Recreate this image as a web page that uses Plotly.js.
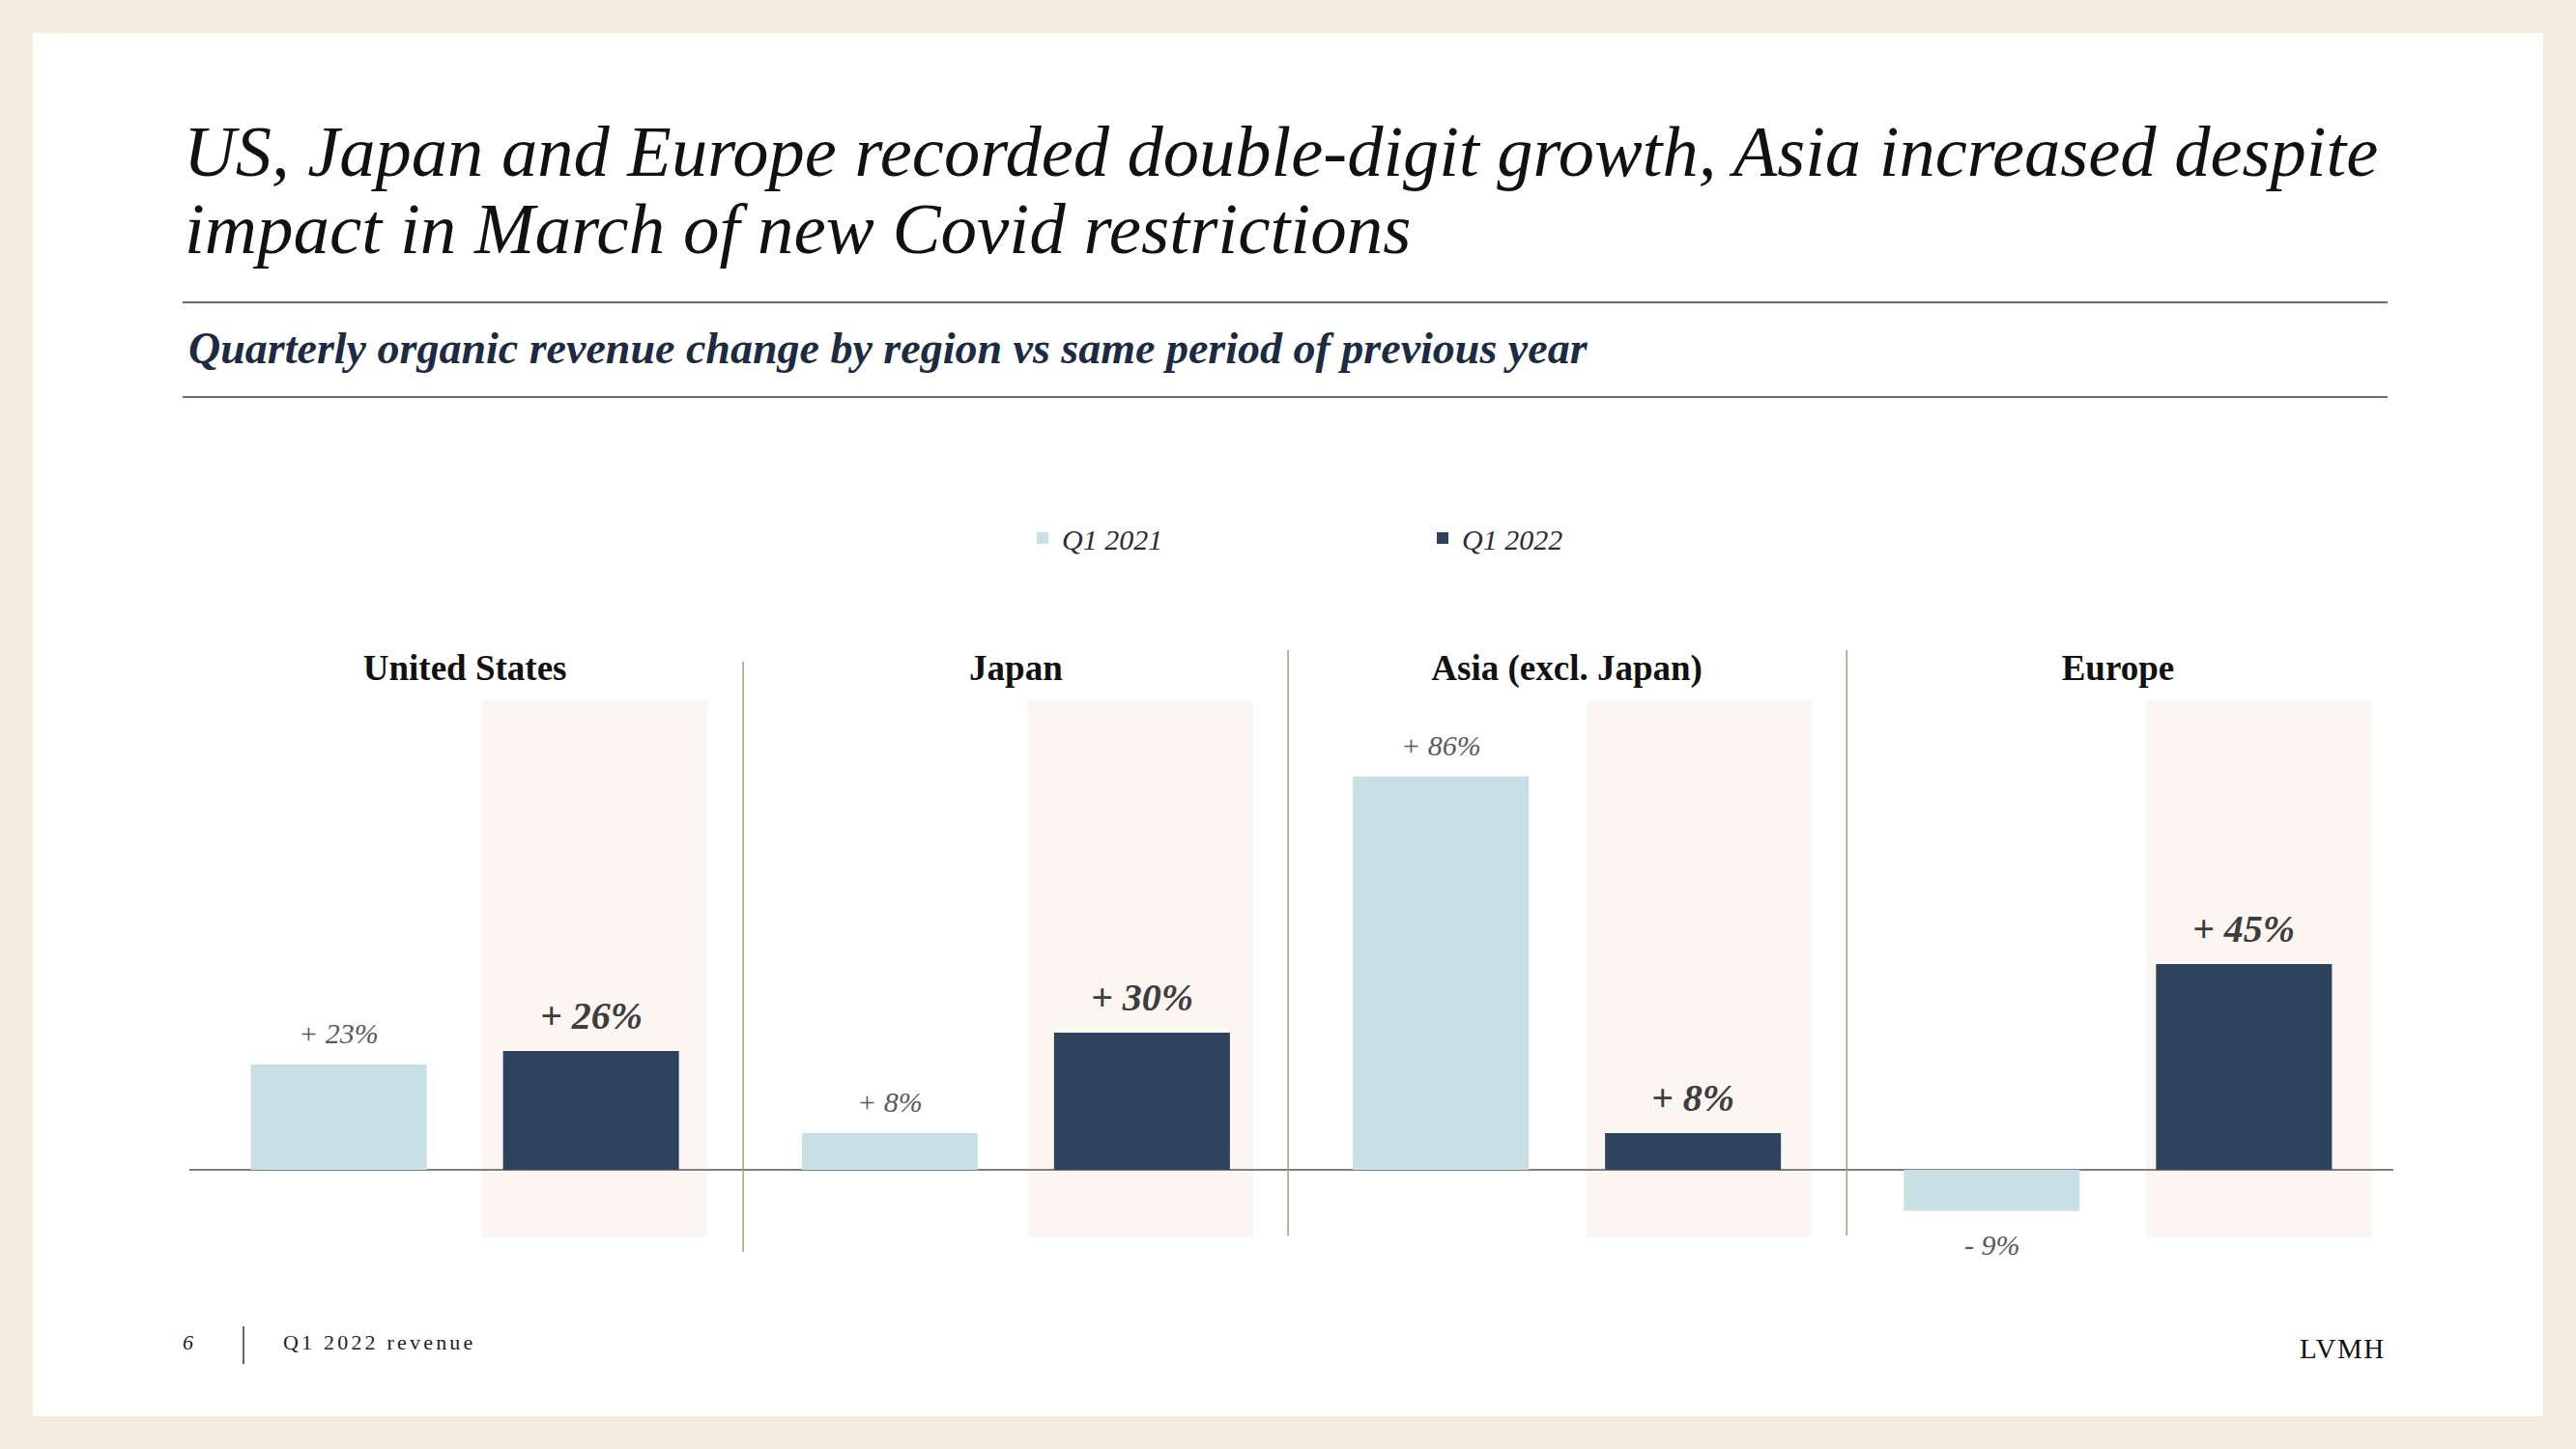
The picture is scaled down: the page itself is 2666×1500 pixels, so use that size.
<!DOCTYPE html>
<html>
<head>
<meta charset="utf-8">
<script src="https://cdn.plot.ly/plotly-3.0.1.min.js"></script>
<style>html,body{margin:0;padding:0;background:#F6EBE1;}#chart{width:2666px;height:1500px;}</style>
</head>
<body>
<div id="chart"></div>
<script>
// ---- Data ----
const categories = ['United States', 'Japan', 'Asia (excl. Japan)', 'Europe'];
const seriesNames = ['Q1 2021', 'Q1 2022'];
const q1_2021 = [23, 8, 86, -9];
const q1_2022 = [26, 30, 8, 45];
const titleLines = ['US, Japan and Europe recorded double-digit growth, Asia increased despite',
                    'impact in March of new Covid restrictions'];
const subtitle = 'Quarterly organic revenue change by region vs same period of previous year';
const footerPage = '6';
const footerText = 'Q1 2022 revenue';
const brand = 'LVMH';

// ---- Layout geometry ----
const W = 2666, H = 1500;
const L = 196, R = 2477, T = 720, B = 1300;
const px = x => (x - L) / (R - L);
const py = y => (B - y) / (B - T);
const SERIF = 'Liberation Serif, Times New Roman, serif';
const bargap = 0.0846, bargroupgap = 0.3027;
const off = (1 - bargap) / 4;
const fmt = v => (v >= 0 ? '+ ' : '- ') + Math.abs(v) + '%';

const traces = [
  {type: 'bar', name: seriesNames[0], x: categories, y: q1_2021,
   marker: {color: '#C8DFE5'}, hoverinfo: 'skip'},
  {type: 'bar', name: seriesNames[1], x: categories, y: q1_2022,
   marker: {color: '#2D425D'}, hoverinfo: 'skip'}
];

const shapes = [
  {type: 'rect', xref: 'paper', yref: 'paper', x0: px(34), x1: px(2632), y0: py(1466), y1: py(34),
   fillcolor: '#FFFFFF', line: {width: 0}, layer: 'below'}
];
const shadeStart = [0.030, 0.021, 0.035, 0.051];
categories.forEach((c, i) => {
  shapes.push({type: 'rect', xref: 'x', yref: 'y', x0: i + shadeStart[i], x1: i + shadeStart[i] + 0.41,
    y0: -14.8, y1: 102.6, fillcolor: '#FBF6F2', line: {width: 0}, layer: 'below'});
});
[[0.505, 685, 1296], [1.494, 673, 1279], [2.508, 673, 1279]].forEach(s => {
  shapes.push({type: 'line', xref: 'x', yref: 'paper', x0: s[0], x1: s[0], y0: py(s[2]), y1: py(s[1]),
    line: {color: '#A39C82', width: 1.5}});
});
[313, 411].forEach(yy => {
  shapes.push({type: 'line', xref: 'paper', yref: 'paper', x0: px(189), x1: px(2471), y0: py(yy), y1: py(yy),
    line: {color: '#3A3A3A', width: 1.5}});
});
shapes.push({type: 'line', xref: 'paper', yref: 'paper', x0: px(252), x1: px(252), y0: py(1412), y1: py(1373),
  line: {color: '#333333', width: 1.5}});

function textAnn(text, xpx, baseline, size, opts) {
  opts = opts || {};
  return Object.assign({
    text: text, xref: 'paper', yref: 'paper', x: px(xpx), y: py(baseline + 0.216 * size),
    xanchor: 'left', yanchor: 'bottom', showarrow: false, borderpad: 0,
    font: {family: SERIF, size: size, color: '#111111'}
  }, opts);
}

const annotations = [
  textAnn(titleLines[1], 190, 263, 75, {font: {family: SERIF, size: 75, color: '#111111', style: 'italic'}}),
  textAnn(subtitle, 194, 377, 46, {font: {family: SERIF, size: 46, color: '#1D2A44', style: 'italic', weight: 'bold'}}),
  textAnn(footerPage, 188, 1398, 22, {font: {family: SERIF, size: 22, color: '#222222', style: 'italic'}}),
  textAnn('<span style="letter-spacing:3.2px">' + footerText + '</span>', 292, 1398, 22,
          {font: {family: SERIF, size: 22, color: '#222222'}}),
  textAnn('<span style="letter-spacing:1.5px">' + brand + '</span>', 2470, 1407, 29,
          {xanchor: 'right', font: {family: SERIF, size: 29, color: '#111111'}})
];

q1_2021.forEach((v, i) => {
  annotations.push({text: fmt(v), xref: 'x', yref: 'y', x: i - off, y: v, showarrow: false,
    xanchor: 'center', yanchor: v >= 0 ? 'bottom' : 'top', yshift: v >= 0 ? 14 : -16,
    font: {family: SERIF, size: 30, color: '#5A5A5A', style: 'italic'}});
});
q1_2022.forEach((v, i) => {
  annotations.push({text: fmt(v), xref: 'x', yref: 'y', x: i + off, y: v, showarrow: false,
    xanchor: 'center', yanchor: v >= 0 ? 'bottom' : 'top', yshift: v >= 0 ? 12 : -14,
    font: {family: SERIF, size: 40, color: '#3D3D3D', style: 'italic', weight: 'bold'}});
});

const layout = {
  width: W, height: H,
  margin: {l: L, r: W - R, t: T, b: H - B, autoexpand: false},
  paper_bgcolor: '#F6EBE1', plot_bgcolor: 'rgba(0,0,0,0)',
  title: {text: titleLines[0], xref: 'container', yref: 'container', x: 190 / W, xanchor: 'left',
          y: 1 - (182 - 0.7 * 74.5) / H, yanchor: 'top',
          font: {family: SERIF, size: 74.5, color: '#111111', style: 'italic'}},
  barmode: 'group', bargap: bargap, bargroupgap: bargroupgap,
  xaxis: {type: 'category', side: 'top', range: [-0.5, 3.5], showgrid: false, zeroline: false,
          showline: false, ticks: '', fixedrange: true, ticklabelstandoff: 8,
          tickfont: {family: SERIF, size: 37, color: '#111111', weight: 'bold'}},
  yaxis: {range: [-18.8, 103.7], showgrid: false, showticklabels: false, ticks: '', showline: false,
          zeroline: true, zerolinecolor: '#7F7F7F', zerolinewidth: 2.5, fixedrange: true},
  showlegend: true,
  legend: {orientation: 'h', x: px(1059), xanchor: 'left', y: py(557), yanchor: 'middle',
           entrywidth: 369, entrywidthmode: 'pixels', itemwidth: 30, bgcolor: 'rgba(0,0,0,0)',
           font: {family: SERIF, size: 30, color: '#2B2B35', style: 'italic'}},
  shapes: shapes,
  annotations: annotations
};

Plotly.newPlot('chart', traces, layout, {staticPlot: true, displayModeBar: false});
</script>
</body>
</html>
